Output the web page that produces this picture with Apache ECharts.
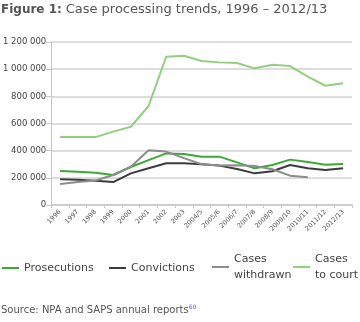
<!DOCTYPE html>
<html>
<head>
<meta charset="utf-8">
<script src="https://cdn.jsdelivr.net/npm/echarts@6/dist/echarts.min.js"></script>
<style>
  html, body { margin: 0; padding: 0; background: #fff; }
  #chart { width: 360px; height: 322px; }
</style>
</head>
<body>
<div id="chart"></div>
<script>
// ----- data -----
var years = ['1996', '1997', '1998', '1999', '2000', '2001', '2002', '2003', '2004/5', '2005/6',
    '2006/7', '2007/8', '2008/9', '2009/10', '2010/11', '2011/12', '2012/13'];
var prosecutions = [250000, 245000, 238000, 221000, 280000, 330000, 380000, 375000, 356000, 356000,
    314000, 270000, 294000, 334000, 317000, 297000, 302000];
var convictions = [189000, 185000, 179000, 169000, 233000, 270000, 307000, 307000, 300000, 290000,
    265000, 233000, 248000, 294000, 270000, 258000, 270000];
var withdrawn = [155000, 170000, 180000, 221000, 282000, 403000, 393000, 345000, 300000, 290000,
    292000, 287000, 263000, 216000, 204000, null, null];
var toCourt = [500000, 500000, 500000, 540000, 576000, 729000, 1092000, 1099000, 1060000, 1050000,
    1045000, 1006000, 1033000, 1023000, 945000, 878000, 896000];
var yTicks = [0, 200000, 400000, 600000, 800000, 1000000, 1200000];

var FONT = 'DejaVu Sans';
var colors = ['#3aaa35', '#3c3c3c', '#8c8c8c', '#92cf80'];

var dom = document.getElementById('chart');
var myChart = echarts.init(dom, null, { renderer: 'canvas' });

function spaced(v) {
    return String(v).replace(/\B(?=(\d{3})+(?!\d))/g, ' ');
}

function legendAt(name, left, top, multi) {
    return {
        data: [name],
        left: left,
        top: top,
        icon: 'rect',
        itemWidth: 17,
        itemHeight: 2,
        itemGap: 0,
        padding: 0,
        formatter: function (n) {
            return multi ? n.replace(' ', '\n') : n;
        },
        textStyle: {
            fontFamily: FONT,
            fontSize: 11,
            color: '#444',
            lineHeight: 16,
            padding: multi ? [16, 0, 0, 0] : 0
        }
    };
}

var option = {
    backgroundColor: '#FFFFFF',
    animation: false,
    color: colors,
    title: {
        left: 1,
        top: 3,
        padding: 0,
        text: '{b|Figure 1:} {n|Case processing trends, 1996 – 2012/13}',
        textStyle: {
            fontFamily: FONT,
            fontWeight: 'normal',
            fontSize: 12,
            color: '#555',
            rich: {
                b: { fontFamily: FONT, fontSize: 12, fontWeight: 'bold', color: '#555' },
                n: { fontFamily: FONT, fontSize: 13, fontWeight: 'normal', color: '#555' }
            }
        }
    },
    legend: [
        legendAt('Prosecutions', 2, 260, false),
        legendAt('Convictions', 109, 260, false),
        legendAt('Cases withdrawn', 212, 243, true),
        legendAt('Cases to court', 293, 243, true)
    ],
    grid: {
        top: 42,
        bottom: 117,
        left: 49,
        right: 8
    },
    xAxis: {
        type: 'category',
        boundaryGap: true,
        data: years,
        axisLine: { show: true, lineStyle: { color: '#c8c8c8', width: 1.5 } },
        axisTick: { show: true, length: 3, lineStyle: { color: '#c8c8c8' } },
        axisLabel: {
            interval: 0,
            rotate: 45,
            margin: 6,
            fontFamily: FONT,
            fontSize: 6.5,
            color: '#555'
        }
    },
    yAxis: {
        type: 'value',
        min: yTicks[0],
        max: yTicks[yTicks.length - 1],
        interval: 200000,
        axisLine: { show: true, lineStyle: { color: '#c8c8c8', width: 1 } },
        axisTick: { show: true, length: 5, lineStyle: { color: '#c8c8c8' } },
        splitLine: { show: true, lineStyle: { color: '#d2d2d2', width: 1.5 } },
        axisLabel: {
            margin: 5,
            fontFamily: FONT,
            fontSize: 8.5,
            color: '#444',
            formatter: function (v) { return spaced(v); }
        }
    },
    graphic: [{
        type: 'text',
        left: 1,
        top: 304,
        style: {
            text: '{s|Source: NPA and SAPS annual reports}{u|60}',
            rich: {
                s: { fontFamily: FONT, fontSize: 10, fill: '#555' },
                u: { fontFamily: FONT, fontSize: 6, fill: '#5b5bd6', verticalAlign: 'top', padding: [0, 0, 6, 0] }
            }
        }
    }],
    series: [{
            name: 'Prosecutions',
            type: 'line',
            symbol: 'none',
            lineStyle: { width: 2 },
            data: prosecutions
        },
        {
            name: 'Convictions',
            type: 'line',
            symbol: 'none',
            lineStyle: { width: 2 },
            data: convictions
        },
        {
            name: 'Cases withdrawn',
            type: 'line',
            symbol: 'none',
            lineStyle: { width: 2 },
            data: withdrawn
        },
        {
            name: 'Cases to court',
            type: 'line',
            symbol: 'none',
            lineStyle: { width: 2 },
            data: toCourt
        }
    ]
};

if (option && typeof option === 'object') {
    myChart.setOption(option);
}
</script>
</body>
</html>
